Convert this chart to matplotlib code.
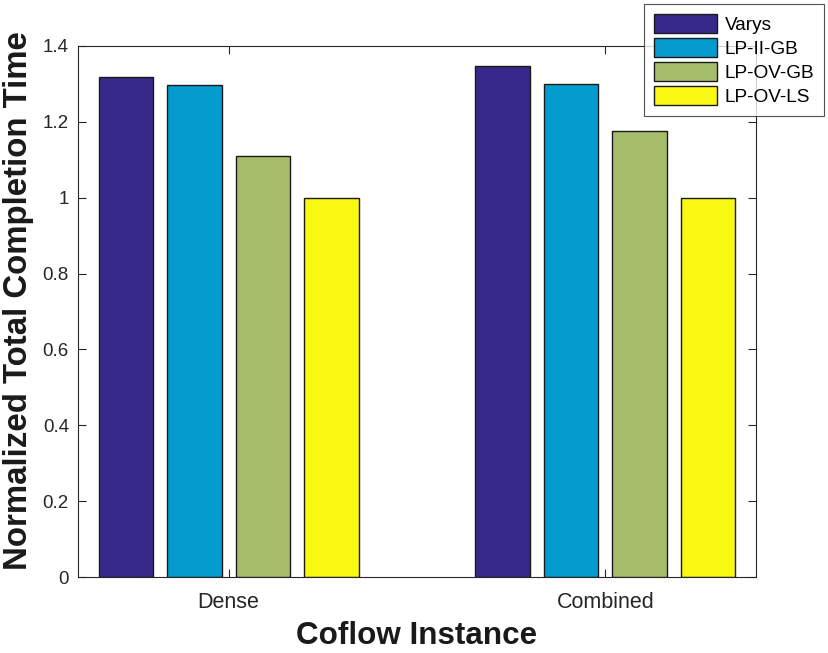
import matplotlib
matplotlib.use("Agg")
import matplotlib.pyplot as plt
import numpy as np

plt.rcParams['font.family'] = ['Liberation Sans', 'DejaVu Sans']

categories = ["Dense", "Combined"]
series_names = ["Varys", "LP-II-GB", "LP-OV-GB", "LP-OV-LS"]
varys = [1.318, 1.346]
lp_ii_gb = [1.298, 1.301]
lp_ov_gb = [1.109, 1.176]
lp_ov_ls = [1.0, 1.0]
colors = ["#36298a", "#049bcf", "#a6be6b", "#f8f812"]
yticks = [0, 0.2, 0.4, 0.6, 0.8, 1, 1.2, 1.4]
ytick_labels = ["0", "0.2", "0.4", "0.6", "0.8", "1", "1.2", "1.4"]

fig = plt.figure(figsize=(8.29, 6.53), dpi=100)
ax = fig.add_axes([78/829, 1-577/653, (756-78)/829, (577-46)/653])

data = [varys, lp_ii_gb, lp_ov_gb, lp_ov_ls]
x = np.arange(1, len(categories)+1)
n = len(data)
groupwidth = min(0.8, n/(n+1.5))
step = groupwidth / n
width = step * 0.8
handles = []
for i, vals in enumerate(data):
    off = (i - (n-1)/2) * step
    b = ax.bar(x + off, vals, width, color=colors[i], edgecolor="#1a1a1a",
               linewidth=1.0, label=series_names[i], zorder=2)
    handles.append(b)

ax.set_xlim(0.6, 2.4)
ax.set_ylim(0, 1.4)
ax.set_xticks(x)
ax.set_xticklabels(categories)
ax.set_yticks(yticks)
ax.set_yticklabels(ytick_labels)
ax.tick_params(direction="in", length=6, width=0.8, colors="#262626",
               top=True, right=True)
ax.tick_params(axis="x", labelsize=15.5, pad=10.5)
ax.tick_params(axis="y", labelsize=13.5, pad=6.5)
for s in ax.spines.values():
    s.set_color("#262626")
    s.set_linewidth(0.8)

ax.set_xlabel("Coflow Instance", fontsize=22.6, fontweight="bold", color="#1a1a1a")
ax.xaxis.set_label_coords(0.5, (577-621)/531)
ax.set_ylabel("Normalized Total Completion Time", fontsize=23.8, fontweight="bold", color="#1a1a1a")
ax.yaxis.set_label_coords((34-78)/678, 0.52)

leg = fig.legend(handles=handles, labels=series_names, loc="upper right",
                 bbox_to_anchor=(824/829, 1-4/653), fontsize=13.7, frameon=True,
                 fancybox=False, edgecolor="#262626", handlelength=3.3,
                 handleheight=1.2, labelspacing=0.2, borderpad=0.52,
                 handletextpad=0.4, borderaxespad=0)
leg.get_frame().set_linewidth(0.8)

fig.savefig("out.png", dpi=100)
